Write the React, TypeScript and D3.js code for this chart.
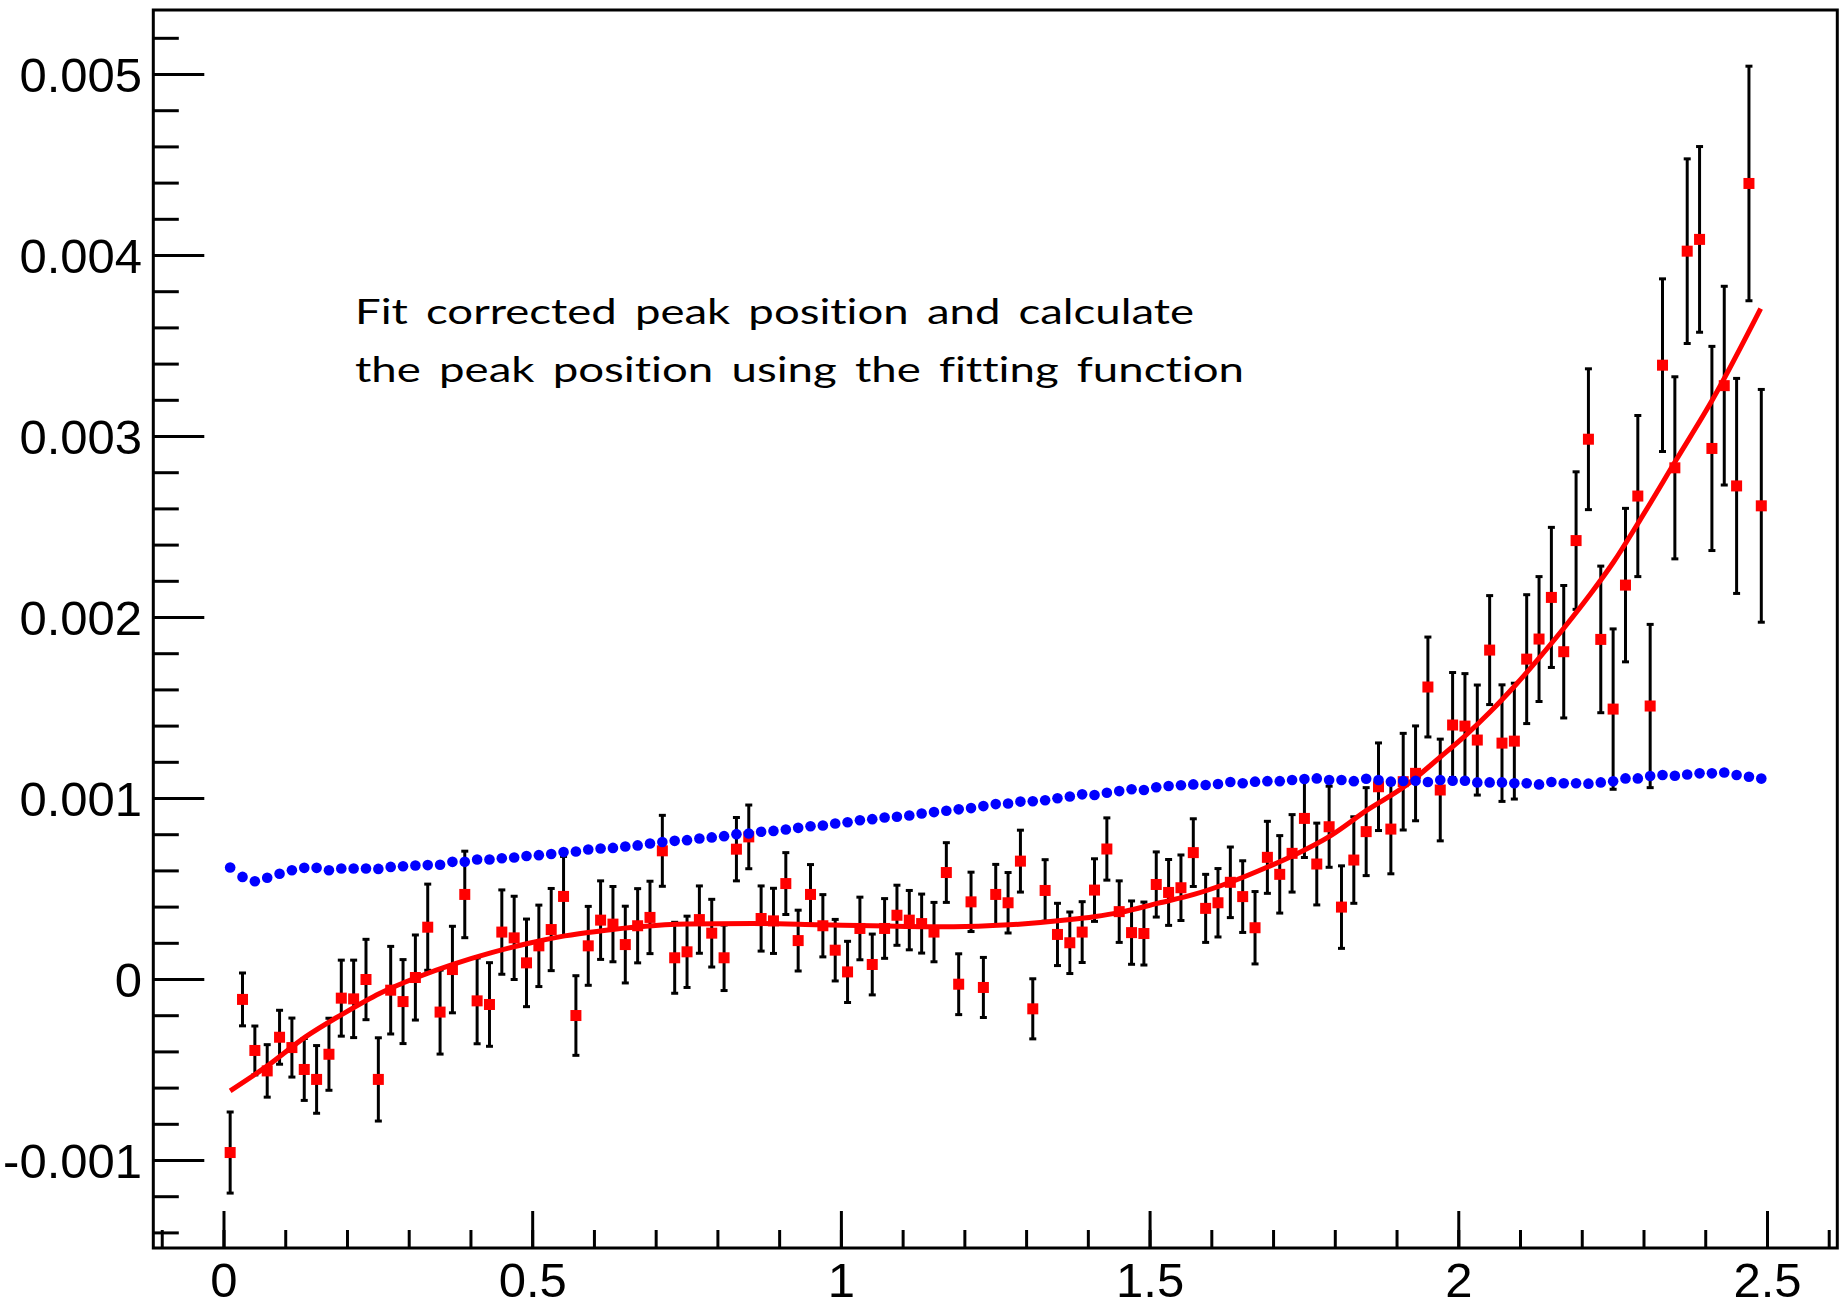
import React from 'react';
import * as d3 from 'd3';

// Bin centres (x) of the corrected peak-position histogram
const binCenters = [
  0.01, 0.03, 0.05, 0.07, 0.09, 0.11, 0.13, 0.15, 0.17, 0.19,
  0.21, 0.23, 0.25, 0.27, 0.29, 0.31, 0.33, 0.35, 0.37, 0.39,
  0.41, 0.43, 0.45, 0.47, 0.49, 0.51, 0.53, 0.55, 0.57, 0.59,
  0.61, 0.63, 0.65, 0.67, 0.69, 0.71, 0.73, 0.75, 0.77, 0.79,
  0.81, 0.83, 0.85, 0.87, 0.89, 0.91, 0.93, 0.95, 0.97, 0.99,
  1.01, 1.03, 1.05, 1.07, 1.09, 1.11, 1.13, 1.15, 1.17, 1.19,
  1.21, 1.23, 1.25, 1.27, 1.29, 1.31, 1.33, 1.35, 1.37, 1.39,
  1.41, 1.43, 1.45, 1.47, 1.49, 1.51, 1.53, 1.55, 1.57, 1.59,
  1.61, 1.63, 1.65, 1.67, 1.69, 1.71, 1.73, 1.75, 1.77, 1.79,
  1.81, 1.83, 1.85, 1.87, 1.89, 1.91, 1.93, 1.95, 1.97, 1.99,
  2.01, 2.03, 2.05, 2.07, 2.09, 2.11, 2.13, 2.15, 2.17, 2.19,
  2.21, 2.23, 2.25, 2.27, 2.29, 2.31, 2.33, 2.35, 2.37, 2.39,
  2.41, 2.43, 2.45, 2.47, 2.49,
];

// Corrected peak position per bin (units of 1e-3)
const correctedMilli = [
  -0.956, -0.110, -0.392, -0.505, -0.319, -0.376, -0.497, -0.552, -0.413, -0.103,
  -0.107, 0.000, -0.552, -0.059, -0.122, 0.011, 0.289, -0.180, 0.055, 0.470,
  -0.118, -0.138, 0.262, 0.230, 0.092, 0.186, 0.276, 0.459, -0.199, 0.186,
  0.328, 0.306, 0.193, 0.297, 0.343, 0.711, 0.120, 0.153, 0.331, 0.256,
  0.120, 0.720, 0.788, 0.337, 0.324, 0.530, 0.215, 0.470, 0.297, 0.162,
  0.042, 0.282, 0.083, 0.282, 0.355, 0.328, 0.309, 0.262, 0.591, -0.026,
  0.429, -0.044, 0.470, 0.424, 0.654, -0.162, 0.492, 0.249, 0.203, 0.262,
  0.494, 0.721, 0.375, 0.259, 0.254, 0.525, 0.481, 0.507, 0.701, 0.393,
  0.424, 0.537, 0.458, 0.286, 0.675, 0.581, 0.697, 0.890, 0.638, 0.844,
  0.400, 0.660, 0.817, 1.065, 0.831, 1.093, 1.139, 1.616, 1.047, 1.406,
  1.400, 1.323, 1.820, 1.306, 1.317, 1.770, 1.881, 2.111, 1.811, 2.425,
  2.985, 1.879, 1.494, 2.179, 2.671, 1.511, 3.394, 2.827, 4.024, 4.089,
  2.934, 3.281, 2.727, 4.398, 2.617,
];

// Statistical error of each corrected bin (units of 1e-3)
const correctedErrMilli = [
  0.224, 0.146, 0.135, 0.145, 0.149, 0.163, 0.171, 0.187, 0.199, 0.210,
  0.214, 0.222, 0.230, 0.242, 0.232, 0.235, 0.238, 0.232, 0.239, 0.239,
  0.237, 0.231, 0.233, 0.230, 0.242, 0.225, 0.227, 0.221, 0.220, 0.218,
  0.217, 0.208, 0.212, 0.205, 0.200, 0.196, 0.196, 0.197, 0.186, 0.187,
  0.181, 0.175, 0.176, 0.180, 0.180, 0.171, 0.168, 0.165, 0.172, 0.170,
  0.169, 0.173, 0.168, 0.165, 0.166, 0.164, 0.163, 0.164, 0.165, 0.168,
  0.164, 0.166, 0.166, 0.167, 0.171, 0.166, 0.170, 0.172, 0.170, 0.168,
  0.173, 0.172, 0.170, 0.175, 0.174, 0.180, 0.182, 0.181, 0.187, 0.188,
  0.189, 0.195, 0.198, 0.200, 0.199, 0.214, 0.214, 0.216, 0.226, 0.224,
  0.228, 0.239, 0.243, 0.242, 0.247, 0.267, 0.262, 0.276, 0.281, 0.290,
  0.290, 0.304, 0.301, 0.322, 0.320, 0.356, 0.345, 0.387, 0.366, 0.380,
  0.389, 0.405, 0.443, 0.424, 0.445, 0.451, 0.477, 0.503, 0.510, 0.513,
  0.564, 0.549, 0.594, 0.648, 0.643,
];

// Uncorrected peak position per bin (units of 1e-3)
const uncorrectedMilli = [
  0.619, 0.567, 0.543, 0.562, 0.584, 0.604, 0.617, 0.617, 0.604, 0.613,
  0.613, 0.613, 0.611, 0.622, 0.626, 0.630, 0.632, 0.634, 0.650, 0.650,
  0.663, 0.663, 0.670, 0.674, 0.682, 0.687, 0.693, 0.704, 0.707, 0.718,
  0.724, 0.727, 0.735, 0.741, 0.751, 0.760, 0.766, 0.770, 0.779, 0.785,
  0.792, 0.803, 0.807, 0.816, 0.821, 0.829, 0.838, 0.847, 0.851, 0.862,
  0.869, 0.880, 0.886, 0.895, 0.899, 0.906, 0.917, 0.925, 0.932, 0.940,
  0.947, 0.958, 0.969, 0.972, 0.983, 0.985, 0.990, 1.001, 1.011, 1.023,
  1.019, 1.032, 1.041, 1.051, 1.047, 1.062, 1.069, 1.073, 1.078, 1.075,
  1.080, 1.091, 1.084, 1.093, 1.096, 1.096, 1.102, 1.108, 1.111, 1.102,
  1.102, 1.096, 1.109, 1.102, 1.093, 1.097, 1.098, 1.091, 1.102, 1.098,
  1.098, 1.089, 1.089, 1.089, 1.084, 1.084, 1.078, 1.091, 1.084, 1.084,
  1.082, 1.089, 1.095, 1.111, 1.111, 1.124, 1.130, 1.126, 1.133, 1.139,
  1.139, 1.144, 1.130, 1.120, 1.110,
];

// Fitting function sampled along x (units of 1e-3)
const fitX = [
  0.01, 0.072, 0.132, 0.192, 0.252, 0.312, 0.372, 0.432, 0.492, 0.552,
  0.612, 0.672, 0.75, 0.858, 0.966, 1.074, 1.182, 1.271, 1.371, 1.409,
  1.452, 1.512, 1.571, 1.632, 1.692, 1.733, 1.792, 1.852, 1.912, 1.971,
  2.012, 2.051, 2.092, 2.132, 2.172, 2.212, 2.251, 2.292, 2.352, 2.412,
  2.489,
];
const fitMilli = [
  -0.615, -0.473, -0.317, -0.191, -0.077, 0.011, 0.085, 0.147, 0.199, 0.241,
  0.269, 0.291, 0.306, 0.309, 0.302, 0.295, 0.291, 0.302, 0.331, 0.347,
  0.371, 0.421, 0.470, 0.540, 0.624, 0.687, 0.794, 0.937, 1.066, 1.232,
  1.352, 1.479, 1.627, 1.784, 1.949, 2.124, 2.308, 2.53, 2.87, 3.21,
  3.707,
];

// Axis ticks
const xMajorTicks = [0, 0.5, 1, 1.5, 2, 2.5];
const xTickLabels = ['0', '0.5', '1', '1.5', '2', '2.5'];
const yMajorTicks = [-1, 0, 1, 2, 3, 4, 5];
const yTickLabels = ['-0.001', '0', '0.001', '0.002', '0.003', '0.004', '0.005'];

const annotation = [
  'Fit corrected peak position and calculate',
  'the peak position using the fitting function',
];

const W = 1840;
const H = 1304;
const frame = { left: 153.3, top: 10, right: 1837.3, bottom: 1248 };
const axisFont = '"Liberation Sans", Arial, Helvetica, sans-serif';

export default function App() {
  const x = d3.scaleLinear().domain([-0.1145, 2.6131]).range([frame.left, frame.right]);
  const y = d3.scaleLinear().domain([-1.4834, 5.3564]).range([frame.bottom, frame.top]);

  const xMinor = d3.range(-1, 27).map((k) => k / 10).filter((v) => v >= -0.1145 && v <= 2.6131);
  const yMinor = d3.range(-7, 27).map((k) => k / 5).filter((v) => v >= -1.4834 && v <= 5.3564);

  const fitLine = d3
    .line<number>()
    .x((_, i) => x(fitX[i]))
    .y((d) => y(d))
    .curve(d3.curveMonotoneX);

  const stroke = 3;
  const sq = 11;

  return (
    <svg
      width={W}
      height={H}
      viewBox={`0 0 ${W} ${H}`}
      style={{ position: 'absolute', left: 0, top: 0, display: 'block', background: '#fff' }}
    >
      <rect x={0} y={0} width={W} height={H} fill="#fff" />

      {/* error bars of the corrected histogram */}
      <g stroke="#000" strokeWidth={stroke}>
        {binCenters.map((cx, i) => {
          const lo = y(correctedMilli[i] - correctedErrMilli[i]);
          const hi = y(correctedMilli[i] + correctedErrMilli[i]);
          const px = x(cx);
          return (
            <g key={i}>
              <line x1={px} x2={px} y1={lo} y2={hi} />
              <line x1={px - 3.5} x2={px + 3.5} y1={lo} y2={lo} />
              <line x1={px - 3.5} x2={px + 3.5} y1={hi} y2={hi} />
            </g>
          );
        })}
      </g>

      {/* corrected markers */}
      <g fill="#ff0000">
        {binCenters.map((cx, i) => (
          <rect key={i} x={x(cx) - sq / 2} y={y(correctedMilli[i]) - sq / 2} width={sq} height={sq} />
        ))}
      </g>

      {/* fitting function */}
      <path d={fitLine(fitMilli) || ''} fill="none" stroke="#ff0000" strokeWidth={5} strokeLinejoin="round" />

      {/* uncorrected markers */}
      <g fill="#0000ff">
        {binCenters.map((cx, i) => (
          <circle key={i} cx={x(cx)} cy={y(uncorrectedMilli[i])} r={5.3} />
        ))}
      </g>

      {/* frame */}
      <rect
        x={frame.left}
        y={frame.top}
        width={frame.right - frame.left}
        height={frame.bottom - frame.top}
        fill="none"
        stroke="#000"
        strokeWidth={stroke}
      />

      {/* axis ticks */}
      <g stroke="#000" strokeWidth={stroke}>
        {xMinor.map((v) => (
          <line key={'xm' + v} x1={x(v)} x2={x(v)} y1={frame.bottom} y2={frame.bottom - 18} />
        ))}
        {xMajorTicks.map((v) => (
          <line key={'xM' + v} x1={x(v)} x2={x(v)} y1={frame.bottom} y2={frame.bottom - 37} />
        ))}
        {yMinor.map((v) => (
          <line key={'ym' + v} x1={frame.left} x2={frame.left + 25.5} y1={y(v)} y2={y(v)} />
        ))}
        {yMajorTicks.map((v) => (
          <line key={'yM' + v} x1={frame.left} x2={frame.left + 51} y1={y(v)} y2={y(v)} />
        ))}
      </g>

      {/* tick labels */}
      <g fontFamily={axisFont} fontSize={49} fill="#000">
        {xMajorTicks.map((v, i) => (
          <text key={'xl' + v} x={x(v)} y={1297} textAnchor="middle">
            {xTickLabels[i]}
          </text>
        ))}
        {yMajorTicks.map((v, i) => (
          <text key={'yl' + v} x={142} y={y(v)} dy="0.36em" textAnchor="end">
            {yTickLabels[i]}
          </text>
        ))}
      </g>

      {/* annotation */}
      <g
        fontFamily='Lato, "Open Sans", sans-serif'
        fontSize={35}
        fill="#000"
        style={{ fontVariantLigatures: 'none', fontFeatureSettings: '"liga" 0', wordSpacing: '5px' }}
      >
        <text x={355} y={324.3} textLength={839} lengthAdjust="spacingAndGlyphs">
          {annotation[0]}
        </text>
        <text x={355} y={381.7} textLength={889} lengthAdjust="spacingAndGlyphs">
          {annotation[1]}
        </text>
      </g>
    </svg>
  );
}
